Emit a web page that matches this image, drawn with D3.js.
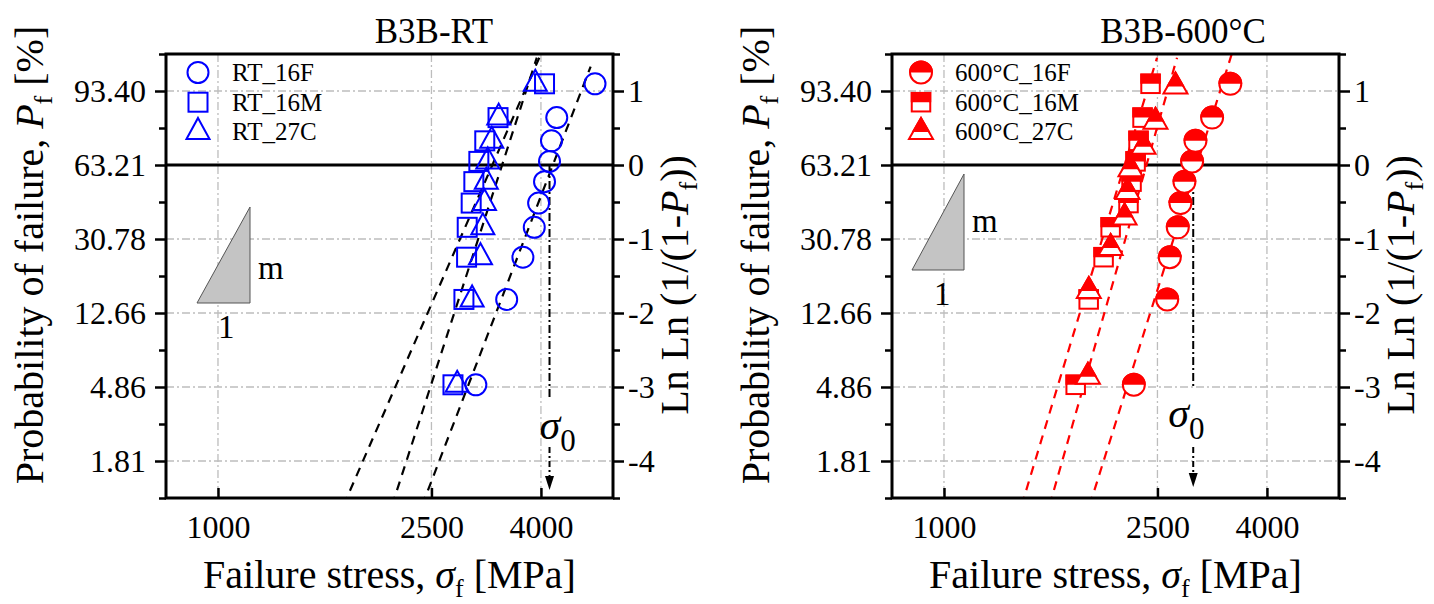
<!DOCTYPE html>
<html>
<head>
<meta charset="utf-8">
<script src="https://cdn.jsdelivr.net/npm/d3@7"></script>
<style>
  html, body { margin: 0; padding: 0; background: #ffffff; }
  svg { display: block; }
</style>
</head>
<body>
<svg id="chart" width="1434" height="604"></svg>
<script>
// ---------- data ----------
// failure probabilities (%) assigned to the ranked specimens
const pfTen  = [5, 15, 25, 35, 45, 55, 65, 75, 85, 95];
const pfNine = [5.56, 16.67, 27.78, 38.89, 50.00, 61.11, 72.22, 83.33, 94.44];

// failure stress (MPa), room temperature
const rt16F = [3025, 3453, 3702, 3887, 3960, 4062, 4150, 4185, 4281, 5045];
const rt16M = [2742, 2874, 2907, 2915, 2965, 2999, 3064, 3143, 3327, 4062];
const rt27C = [2792, 2977, 3086, 3117, 3139, 3164, 3184, 3239, 3337, 3904];

// failure stress (MPa), 600 °C
const ht16F = [2259, 2607, 2636, 2728, 2759, 2807, 2901, 2943, 3161, 3418];
const ht16M = [1760, 1861, 1984, 2045, 2208, 2237, 2276, 2305, 2345, 2427];
const ht27C = [1855, 1862, 2045, 2171, 2199, 2227, 2355, 2479, 2701];

// Weibull fits: modulus m, characteristic strength sigma0 (MPa), upper end of line (Ln Ln units)
const rtFitModulus = [8.2, 7.2, 9.74];
const rtFitScale   = [4210, 3247, 3386];
const rtFitTop     = [1.33, 1.45, 1.45];
const htFitModulus = [10.0, 10.41, 11.06];
const htFitScale   = [2960, 2171, 2385];
const htFitTop     = [1.5, 1.45, 1.45];

// characteristic strength marked by the arrow
const rtSigma0 = 4150;
const htSigma0 = 2915;

// axes
const stressTicks = [1000, 2500, 4000];
const lnlnTicks = [1, 0, -1, -2, -3, -4];
const probTickLabels = ["93.40", "63.21", "30.78", "12.66", "4.86", "1.81"];
const lnlnMinor = [1.5, 0.5, -0.5, -1.5, -2.5, -3.5, -4.5];
const stressDomain = [800, 5450];
const lnlnDomain = [-4.5, 1.5];

// ---------- drawing ----------
const FONT = '"Liberation Serif", "Times New Roman", serif';
const svg = d3.select("#chart");
const plotTop = 54, plotBottom = 498;

const lnln = p => Math.log(-Math.log(1 - p / 100));

const defs = svg.append("defs");
defs.append("clipPath").attr("id", "upperHalf")
  .append("rect").attr("x", -30).attr("y", -30).attr("width", 60).attr("height", 30);

const triPath = (w, h) => `M0,${-2 * h / 3}L${w / 2},${h / 3}L${-w / 2},${h / 3}Z`;

function appendShape(sel, shape, sz) {
  if (shape === "circle") return sel.append("circle").attr("r", sz.r);
  if (shape === "square") return sel.append("rect")
    .attr("x", -sz.s / 2).attr("y", -sz.s / 2).attr("width", sz.s).attr("height", sz.s);
  return sel.append("path").attr("d", triPath(sz.tw, sz.th));
}

function drawMarker(sel, shape, color, halfFilled, sz) {
  if (halfFilled) {
    appendShape(sel, shape, sz).attr("fill", "#ffffff").attr("stroke", color).attr("stroke-width", 2);
    appendShape(sel, shape, sz).attr("fill", color).attr("stroke", color).attr("stroke-width", 2)
      .attr("clip-path", "url(#upperHalf)");
  } else {
    appendShape(sel, shape, sz).attr("fill", "none").attr("stroke", color).attr("stroke-width", 2);
  }
}

function styleAxis(g, size) {
  g.attr("font-size", null).attr("font-family", null);
  g.select(".domain").remove();
  g.selectAll(".tick line").attr("stroke", "#000").attr("stroke-width", 2.5);
  g.selectAll(".tick text").attr("fill", "#000").attr("font-size", size).attr("font-family", FONT);
}

const panels = [
  {
    key: "rt", title: "B3B-RT", titleX: 434, x0: 166, x1: 613,
    color: "#0000ff", halfFilled: false, lineColor: "#000000",
    sizes: { r: 10.5, s: 19, tw: 23, th: 21 },
    series: [
      { name: "RT_16F", shape: "circle", stress: rt16F, pf: pfTen },
      { name: "RT_16M", shape: "square", stress: rt16M, pf: pfTen },
      { name: "RT_27C", shape: "triangle", stress: rt27C, pf: pfTen }
    ],
    fitM: rtFitModulus, fitS: rtFitScale, fitTop: rtFitTop,
    sigma0: rtSigma0, arrow: { gapTop: 397, gapBottom: 447, tip: 490, labelDx: -10, labelY: 439 },
    legendX: 198, textX: 232,
    slope: { x0: 197, x1: 250, yBase: 303, yTop: 207, mX: 258, mY: 279, oneX: 218, oneY: 338 }
  },
  {
    key: "ht", title: "B3B-600°C", titleX: 1183, x0: 892, x1: 1339,
    color: "#ff0000", halfFilled: true, lineColor: "#ff0000",
    sizes: { r: 11, s: 18.5, tw: 24, th: 21 },
    series: [
      { name: "600°C_16F", shape: "circle", stress: ht16F, pf: pfTen },
      { name: "600°C_16M", shape: "square", stress: ht16M, pf: pfTen },
      { name: "600°C_27C", shape: "triangle", stress: ht27C, pf: pfNine }
    ],
    fitM: htFitModulus, fitS: htFitScale, fitTop: htFitTop,
    sigma0: htSigma0, arrow: { gapTop: 388, gapBottom: 447, tip: 487, labelDx: -25, labelY: 427 },
    legendX: 921, textX: 955,
    slope: { x0: 912, x1: 964, yBase: 270, yTop: 174, mX: 972, mY: 232, oneX: 934, oneY: 305 }
  }
];

panels.forEach(p => {
  const x = d3.scaleLog().domain(stressDomain).range([p.x0, p.x1]);
  const y = d3.scaleLinear().domain(lnlnDomain).range([plotBottom, plotTop]);
  const g = svg.append("g").attr("class", "panel-" + p.key);

  const clipId = "plotArea-" + p.key;
  defs.append("clipPath").attr("id", clipId).append("rect")
    .attr("x", p.x0).attr("y", plotTop).attr("width", p.x1 - p.x0).attr("height", plotBottom - plotTop);

  // grid
  const grid = g.append("g").attr("stroke", "#bdbdbd").attr("stroke-width", 1.3)
    .attr("stroke-dasharray", "8,3,2,3");
  grid.selectAll("line.gx").data(stressTicks).join("line").attr("class", "gx")
    .attr("x1", d => x(d)).attr("x2", d => x(d)).attr("y1", plotTop).attr("y2", plotBottom);
  grid.selectAll("line.gy").data(lnlnTicks.filter(d => d !== 0)).join("line").attr("class", "gy")
    .attr("x1", p.x0).attr("x2", p.x1).attr("y1", d => y(d)).attr("y2", d => y(d));

  // Ln Ln = 0 reference line (63.21 %)
  g.append("line").attr("x1", p.x0).attr("x2", p.x1).attr("y1", y(0)).attr("y2", y(0))
    .attr("stroke", "#000").attr("stroke-width", 2.8);

  // Weibull fit lines
  const fitG = g.append("g").attr("clip-path", `url(#${clipId})`);
  p.fitM.forEach((m, i) => {
    const ends = [lnlnDomain[0] - 0.1, p.fitTop[i]];
    const pts = ends.map(v => [x(p.fitS[i] * Math.exp(v / m)), y(v)]);
    fitG.append("path").attr("d", d3.line()(pts))
      .attr("fill", "none").attr("stroke", p.lineColor).attr("stroke-width", 2.2)
      .attr("stroke-dasharray", "9,7");
  });

  // characteristic strength arrow
  const sx = x(p.sigma0);
  const arr = g.append("g");
  arr.append("line").attr("x1", sx).attr("x2", sx).attr("y1", y(0)).attr("y2", p.arrow.gapTop)
    .attr("stroke", "#000").attr("stroke-width", 2).attr("stroke-dasharray", "8,3,2,3");
  arr.append("line").attr("x1", sx).attr("x2", sx).attr("y1", p.arrow.gapBottom).attr("y2", p.arrow.tip - 10)
    .attr("stroke", "#000").attr("stroke-width", 2).attr("stroke-dasharray", "6,3,2,3");
  arr.append("path")
    .attr("d", `M${sx - 4.5},${p.arrow.tip - 14}L${sx + 4.5},${p.arrow.tip - 14}L${sx},${p.arrow.tip}Z`)
    .attr("fill", "#000");
  const sl = arr.append("text").attr("x", sx + p.arrow.labelDx).attr("y", p.arrow.labelY)
    .attr("font-family", FONT).attr("fill", "#000");
  sl.append("tspan").attr("font-size", 42).attr("font-style", "italic").text("σ");
  sl.append("tspan").attr("font-size", 31).attr("dy", 12).text("0");

  // data markers
  p.series.forEach(s => {
    g.append("g").selectAll("g").data(d3.zip(s.stress, s.pf)).join("g")
      .attr("transform", d => `translate(${x(d[0])},${y(lnln(d[1]))})`)
      .each(function () { drawMarker(d3.select(this), s.shape, p.color, p.halfFilled, p.sizes); });
  });

  // slope indicator
  const sp = p.slope;
  g.append("path").attr("d", `M${sp.x0},${sp.yBase}L${sp.x1},${sp.yBase}L${sp.x1},${sp.yTop}Z`)
    .attr("fill", "#c4c4c4").attr("stroke", "#555").attr("stroke-width", 1);
  g.append("text").attr("x", sp.mX).attr("y", sp.mY).attr("font-family", FONT).attr("font-size", 33).text("m");
  g.append("text").attr("x", sp.oneX).attr("y", sp.oneY).attr("font-family", FONT).attr("font-size", 33).text("1");

  // legend
  p.series.forEach((s, i) => {
    const cy = 72.5 + i * 29.7;
    const lg = g.append("g").attr("transform", `translate(${p.legendX},${cy})`);
    drawMarker(lg, s.shape, p.color, p.halfFilled, p.sizes);
    g.append("text").attr("x", p.textX).attr("y", cy + 8.5).attr("font-family", FONT)
      .attr("font-size", 25).attr("fill", "#000").text(s.name);
  });

  // frame
  g.append("rect").attr("x", p.x0).attr("y", plotTop).attr("width", p.x1 - p.x0)
    .attr("height", plotBottom - plotTop).attr("fill", "none").attr("stroke", "#000").attr("stroke-width", 3);

  // axes
  const ax = g.append("g").attr("transform", `translate(${p.x0},0)`)
    .call(d3.axisLeft(y).tickValues(lnlnTicks).tickFormat((d, i) => probTickLabels[i]).tickSize(11).tickPadding(9));
  styleAxis(ax, 32);
  const axm = g.append("g").attr("transform", `translate(${p.x0},0)`)
    .call(d3.axisLeft(y).tickValues(lnlnMinor).tickFormat(() => "").tickSize(7));
  styleAxis(axm, 32);
  const axr = g.append("g").attr("transform", `translate(${p.x1},0)`)
    .call(d3.axisRight(y).tickValues(lnlnTicks).tickFormat(d => String(d)).tickSize(11).tickPadding(4));
  styleAxis(axr, 32);
  const axrm = g.append("g").attr("transform", `translate(${p.x1},0)`)
    .call(d3.axisRight(y).tickValues(lnlnMinor).tickFormat(() => "").tickSize(7));
  styleAxis(axrm, 32);
  const axb = g.append("g").attr("transform", `translate(0,${plotBottom})`)
    .call(d3.axisBottom(x).tickValues(stressTicks).tickFormat(d3.format("d"))
      .tickSizeInner(-10).tickSizeOuter(0).tickPadding(17));
  styleAxis(axb, 32);

  // titles
  g.append("text").attr("x", p.titleX).attr("y", 43).attr("text-anchor", "middle")
    .attr("font-family", FONT).attr("font-size", 35).text(p.title);

  const xt = g.append("text").attr("x", (p.x0 + p.x1) / 2).attr("y", 588).attr("text-anchor", "middle")
    .attr("font-family", FONT).attr("font-size", 40);
  xt.append("tspan").text("Failure stress, ");
  xt.append("tspan").attr("font-style", "italic").text("σ");
  xt.append("tspan").attr("font-size", 26).attr("dy", 9).text("f");
  xt.append("tspan").attr("dy", -9).text(" [MPa]");

  const yl = g.append("text").attr("transform", `translate(${p.x0 - 123},255) rotate(-90)`)
    .attr("text-anchor", "middle").attr("font-family", FONT).attr("font-size", 40);
  yl.append("tspan").text("Probability of failure, ");
  yl.append("tspan").attr("font-style", "italic").text("P");
  yl.append("tspan").attr("font-size", 26).attr("dy", 9).text("f");
  yl.append("tspan").attr("dy", -9).text(" [%]");

  const yr = g.append("text").attr("transform", `translate(${p.x1 + 75},285) rotate(-90)`)
    .attr("text-anchor", "middle").attr("font-family", FONT).attr("font-size", 40);
  yr.append("tspan").text("Ln Ln (1/(1-");
  yr.append("tspan").attr("font-style", "italic").text("P");
  yr.append("tspan").attr("font-size", 26).attr("dy", 9).text("f");
  yr.append("tspan").attr("dy", -9).text("))");
});
</script>
</body>
</html>
